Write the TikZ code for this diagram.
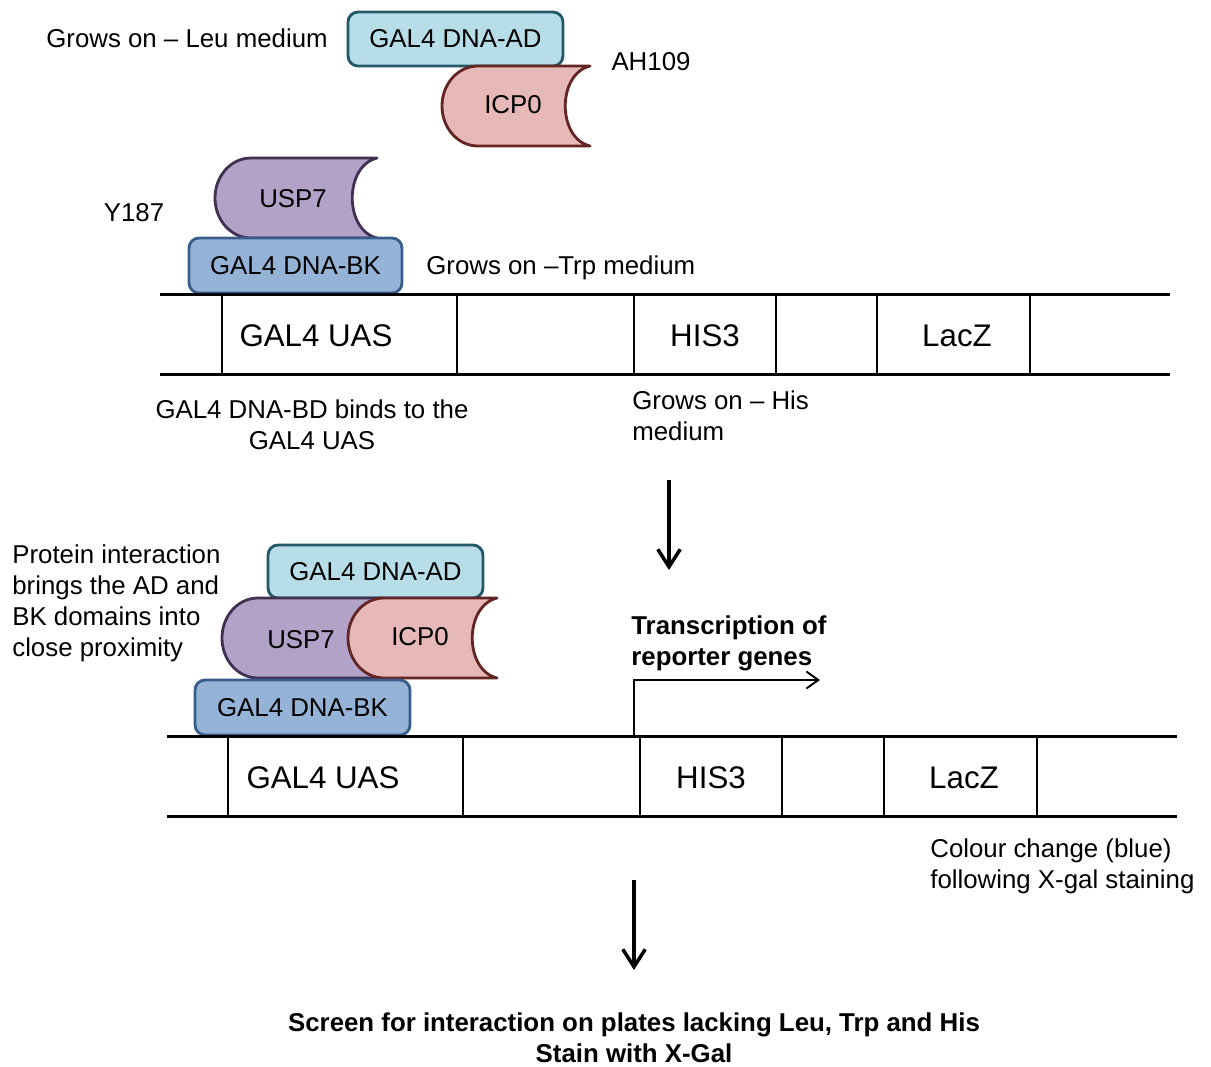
\documentclass[tikz,border=0pt]{standalone}
\usepackage{fontspec}
\setmainfont{Liberation Sans}
\usetikzlibrary{arrows.meta}
\definecolor{adfill}{HTML}{B7DEE8}
\definecolor{addraw}{HTML}{215968}
\definecolor{bkfill}{HTML}{95B3D7}
\definecolor{bkdraw}{HTML}{385D8A}
\definecolor{icpfill}{HTML}{E6B9B8}
\definecolor{icpdraw}{HTML}{632523}
\definecolor{uspfill}{HTML}{B3A2C7}
\definecolor{uspdraw}{HTML}{403152}
\newcommand{\txt}{\fontsize{14.7}{17.6}\selectfont}
\newcommand{\gene}{\fontsize{17.8}{21}\selectfont}
% notched protein: x0 y0 width height fill draw
\newcommand{\domain}[6]{%
  \filldraw[fill=#5,draw=#6,line width=1.6pt,line join=round] ({#1+#3},{#2}) -- ({#1+36},{#2})
    .. controls ({#1+16},{#2}) and ({#1},{#2+#4*0.224}) .. ({#1},{#2+#4*0.5})
    .. controls ({#1},{#2+#4*0.776}) and ({#1+16},{#2+#4}) .. ({#1+36},{#2+#4})
    -- ({#1+#3},{#2+#4})
    .. controls ({#1+#3-33},{#2+#4-8}) and ({#1+#3-33},{#2+8}) .. cycle;}

\begin{document}
\begin{tikzpicture}[x=0.02cm,y=-0.02cm,
  every node/.style={font=\txt,inner sep=0pt},
  box/.style={draw,rounded corners=0.2cm,line width=1.6pt,minimum width=4.3cm,minimum height=1.08cm},
  dna/.style={line width=1.7pt},
  cut/.style={line width=1pt},
  down/.style={line width=2pt,-{Straight Barb[length=3.5mm,width=4.5mm]}}]
\useasboundingbox (0,0) rectangle (1211,1066);

%%% before
\node (leu) at (187,38) {Grows on – Leu medium};
\node[box,fill=adfill,draw=addraw] (ADu) at (455.5,39) {GAL4 DNA-AD};
\domain{442}{66}{148}{80}{icpfill}{icpdraw}
\node (ICPu) at (513,105) {ICP0};
\node (AH) at (651,62) {AH109};
\domain{215}{158}{162}{80}{uspfill}{uspdraw}
\node (USPu) at (293,199) {USP7};
\node (Y) at (134,213) {Y187};
\node[box,fill=bkfill,draw=bkdraw,minimum width=4.26cm,minimum height=1.1cm] (BKu) at (295.5,265.5) {GAL4 DNA-BK};
\node[anchor=west] (trp) at (426,268) {Grows on –Trp medium};

\draw[dna] (160,294) -- (1170,294) (160,374) -- (1170,374);
\foreach \x in {222,457,634,776,877,1030}
  \draw[cut] (\x,294) -- (\x,374);
\node[font=\gene] (UASu) at (316,336) {GAL4 UAS};
\node[font=\gene] (HISu) at (705,336) {HIS3};
\node[font=\gene] (LACu) at (957,336) {LacZ};
\node[align=center] (bd) at (312,425) {GAL4 DNA-BD binds to the\\GAL4 UAS};
\node[anchor=west,align=left] (his) at (632,416) {Grows on – His\\medium};

\coordinate (a1) at (669,480);
\coordinate (a2) at (669,570);
\draw[down] (a1) -- (a2);

%%% after
\node[anchor=west,align=left] (prox) at (12,603) {Protein interaction\\brings the AD and\\BK domains into\\close proximity};
\node[box,fill=adfill,draw=addraw,minimum height=1.06cm] (ADl) at (375.5,571.5) {GAL4 DNA-AD};
\domain{222}{598}{160}{80}{uspfill}{uspdraw}
\domain{348}{598}{149}{80}{icpfill}{icpdraw}
\node (USPl) at (301,640) {USP7};
\node (ICPl) at (420,637) {ICP0};
\node[box,fill=bkfill,draw=bkdraw,minimum height=1.1cm] (BKl) at (302.5,707.5) {GAL4 DNA-BK};

\draw[dna] (167,736) -- (1177,736) (167,816) -- (1177,816);
\foreach \x in {228,463,640,782,884,1037}
  \draw[cut] (\x,736) -- (\x,816);
\node[font=\gene] (UASl) at (323,778) {GAL4 UAS};
\node[font=\gene] (HISl) at (711,778) {HIS3};
\node[font=\gene] (LACl) at (964,778) {LacZ};

\coordinate (tss) at (634,736);
\coordinate (tend) at (820,680);
\draw[line width=1.1pt,-{Straight Barb[length=2.4mm,width=3.4mm]}] (tss) |- (tend);
\node[anchor=west,align=left,font=\txt\bfseries] (tx) at (631,643) {Transcription of\\reporter genes};
\node[anchor=west,align=left] (blue) at (930,866) {Colour change (blue)\\following X-gal staining};

\coordinate (b1) at (634,880);
\coordinate (b2) at (634,970);
\draw[down] (b1) -- (b2);
\node[align=center,font=\txt\bfseries] (screen) at (634,1038) {Screen for interaction on plates lacking Leu, Trp and His\\Stain with X-Gal};
\end{tikzpicture}
\end{document}
